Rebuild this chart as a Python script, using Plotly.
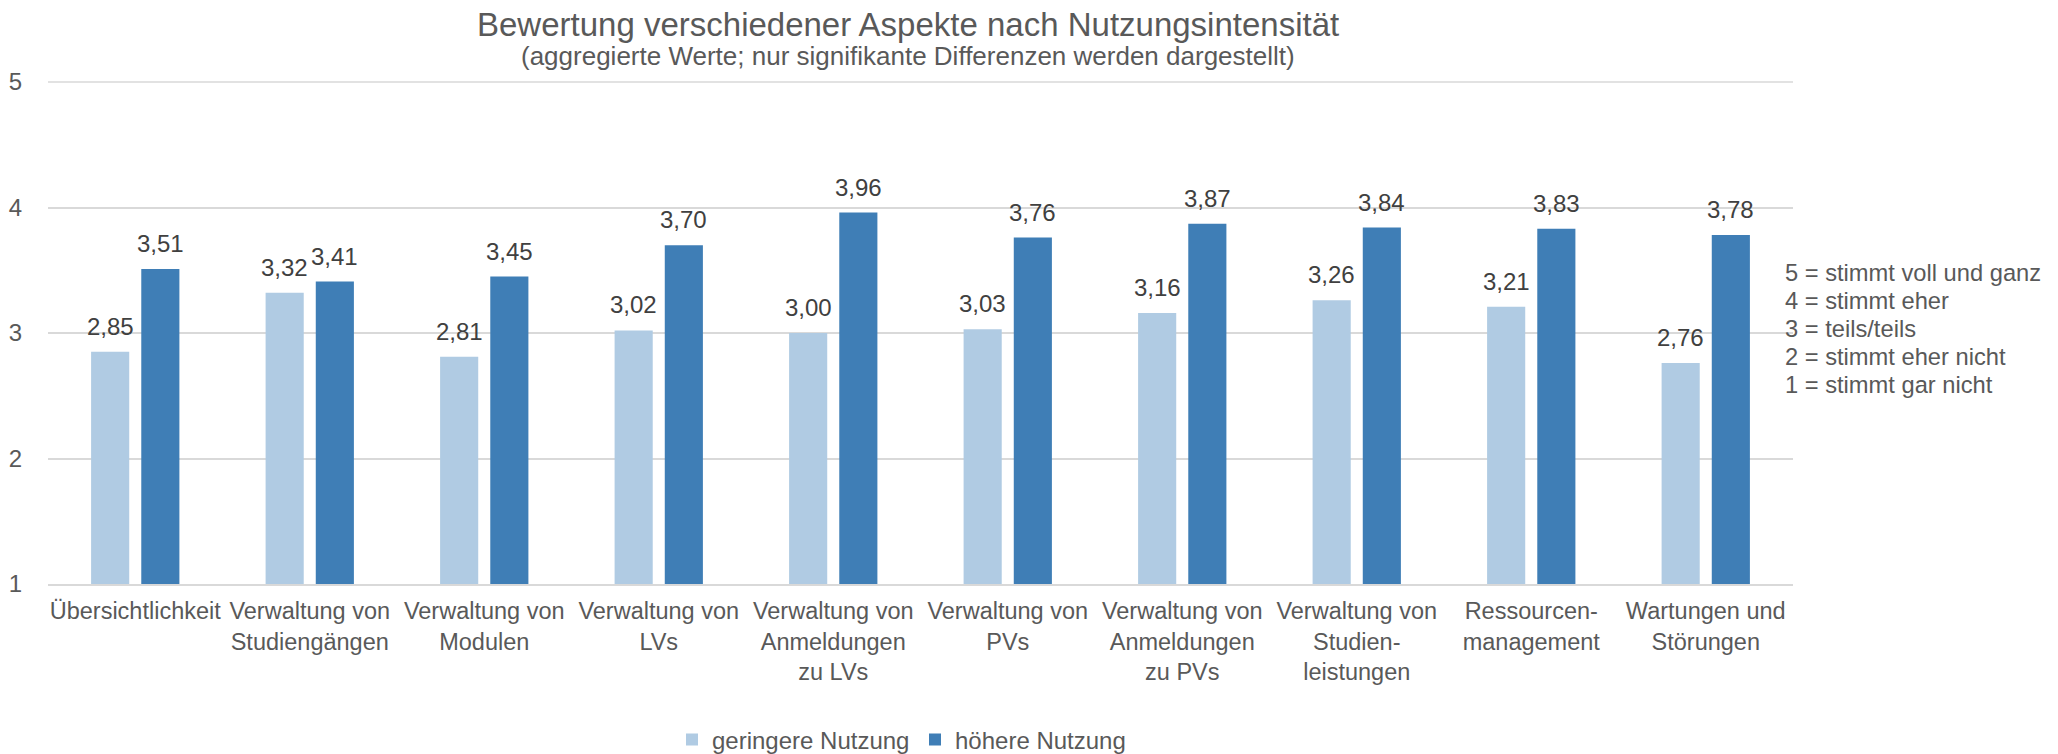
import plotly.graph_objects as go

categories = [
    "Übersichtlichkeit",
    "Verwaltung von<br>Studiengängen",
    "Verwaltung von<br>Modulen",
    "Verwaltung von<br>LVs",
    "Verwaltung von<br>Anmeldungen<br>zu LVs",
    "Verwaltung von<br>PVs",
    "Verwaltung von<br>Anmeldungen<br>zu PVs",
    "Verwaltung von<br>Studien-<br>leistungen",
    "Ressourcen-<br>management",
    "Wartungen und<br>Störungen",
]
geringere = [2.85, 3.32, 2.81, 3.02, 3.00, 3.03, 3.16, 3.26, 3.21, 2.76]
hoehere = [3.51, 3.41, 3.45, 3.70, 3.96, 3.76, 3.87, 3.84, 3.83, 3.78]
series_names = ["geringere Nutzung", "höhere Nutzung"]
y_ticks = [1, 2, 3, 4, 5]
scale_legend = [
    "5 = stimmt voll und ganz",
    "4 = stimmt eher",
    "3 = teils/teils",
    "2 = stimmt eher nicht",
    "1 = stimmt gar nicht",
]

LIGHT = "#B0CBE3"
DARK = "#3F7EB6"
AXIS_TXT = "#595959"
LABEL_TXT = "#404040"
GRID = "#D9D9D9"
FONT = "Liberation Sans, Arial, sans-serif"

W, H = 2058, 754
PLOT_L, PLOT_R = 48, 1793
PLOT_T, PLOT_B = 81, 584


def py(pix):
    """Pixel row -> paper y."""
    return (PLOT_B - pix) / (PLOT_B - PLOT_T)


def px(pix):
    """Pixel column -> paper x."""
    return (pix - PLOT_L) / (PLOT_R - PLOT_L)


fig = go.Figure()
for name, vals, col in [(series_names[0], geringere, LIGHT), (series_names[1], hoehere, DARK)]:
    fig.add_trace(go.Bar(
        name=name, x=categories, y=vals,
        marker=dict(color=col, line=dict(width=0)),
    ))

# value labels above each bar (comma as decimal separator)
for vals, shift in [(geringere, -25), (hoehere, 25)]:
    for cat, v in zip(categories, vals):
        fig.add_annotation(
            x=cat, y=v, xref="x", yref="y", xshift=shift, yshift=10,
            text=f"{v:.2f}".replace(".", ","), showarrow=False,
            yanchor="bottom", font=dict(size=24, color=LABEL_TXT, family=FONT),
        )

# top gridline at the highest scale value (kept explicit so it is always drawn)
fig.add_shape(
    type="line", xref="paper", yref="y", x0=0, x1=1,
    y0=y_ticks[-1], y1=y_ticks[-1], layer="below",
    line=dict(color=GRID, width=1.5),
)

# title and subtitle
fig.add_annotation(
    x=px(908), y=py(24), xref="paper", yref="paper", yanchor="middle",
    text="Bewertung verschiedener Aspekte nach Nutzungsintensität",
    showarrow=False, font=dict(size=33, color=AXIS_TXT, family=FONT),
)
fig.add_annotation(
    x=px(908), y=py(56), xref="paper", yref="paper", yanchor="middle",
    text="(aggregierte Werte; nur signifikante Differenzen werden dargestellt)",
    showarrow=False, font=dict(size=26, color=AXIS_TXT, family=FONT),
)

# rating scale key on the right, one line per level
KEY_TOP, KEY_STEP = 273, 27.9
for i, line in enumerate(scale_legend):
    fig.add_annotation(
        x=1.0, y=py(KEY_TOP + i * KEY_STEP), xref="paper", yref="paper",
        xanchor="left", yanchor="middle", xshift=-10,
        text=line, showarrow=False,
        font=dict(size=23.7, color=AXIS_TXT, family=FONT),
    )

fig.update_layout(
    width=W, height=H,
    margin=dict(l=PLOT_L, r=W - PLOT_R, t=PLOT_T, b=H - PLOT_B, pad=0,
                autoexpand=False),
    paper_bgcolor="white", plot_bgcolor="white",
    barmode="group", bargap=0.425, bargroupgap=0.24,
    font=dict(family=FONT, color=AXIS_TXT, size=24),
    showlegend=True,
    legend=dict(
        orientation="h", x=px(672), xanchor="left", y=py(740), yanchor="middle",
        font=dict(size=24, color=AXIS_TXT), itemwidth=30,
        entrywidth=198, entrywidthmode="pixels",
    ),
    xaxis=dict(
        showgrid=False, showline=True, linecolor=GRID, linewidth=1.5,
        ticks="outside", ticklen=5, tickcolor="rgba(0,0,0,0)",
        tickfont=dict(size=23.5, color=AXIS_TXT), tickangle=0, automargin=False,
    ),
    yaxis=dict(
        range=[1, 5.008], tickvals=y_ticks, showgrid=True, gridcolor=GRID, gridwidth=1.5,
        zeroline=False, showline=False, automargin=False,
        ticks="outside", ticklen=20, tickcolor="rgba(0,0,0,0)",
        tickfont=dict(size=24, color=AXIS_TXT),
    ),
)

fig.write_html("out.html")
